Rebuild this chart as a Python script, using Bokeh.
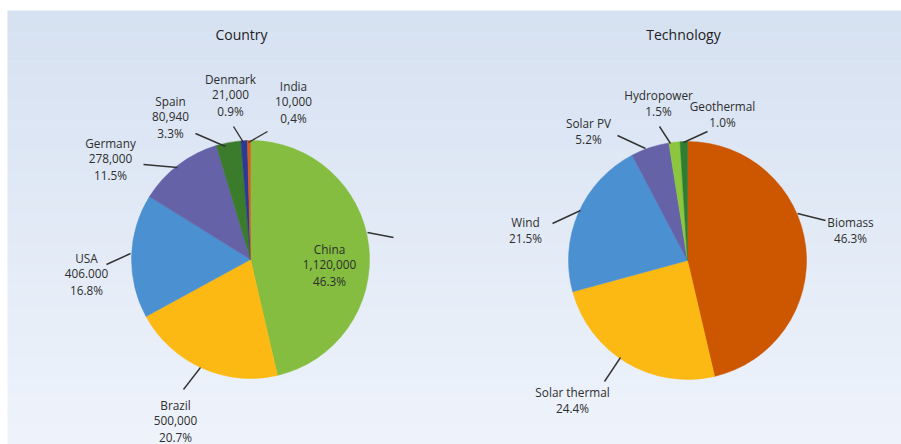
import math
from bokeh.plotting import figure
from bokeh.models import Range1d, ColumnDataSource
from bokeh.core.properties import value
from bokeh.embed import file_html
from bokeh.resources import INLINE

# ---------------- data ----------------
country_names = ["China", "Brazil", "USA", "Germany", "Spain", "Denmark", "India"]
country_values = [1120000, 500000, 406000, 278000, 80940, 21000, 10000]
country_value_labels = ["1,120,000", "500,000", "406.000", "278,000", "80,940", "21,000", "10,000"]
country_pct_labels = ["46.3%", "20.7%", "16.8%", "11.5%", "3.3%", "0.9%", "0,4%"]
country_colors = ["#84bd3f", "#fdb913", "#4b91d1", "#6562a8", "#3b7b2c", "#2b3a95", "#d4601c"]

tech_names = ["Biomass", "Solar thermal", "Wind", "Solar PV", "Hydropower", "Geothermal"]
tech_values = [46.3, 24.4, 21.5, 5.2, 1.5, 1.0]
tech_pct_labels = ["46.3%", "24.4%", "21.5%", "5.2%", "1.5%", "1.0%"]
tech_colors = ["#cc5700", "#fdb913", "#4b91d1", "#6562a8", "#8cc63f", "#2e7d32"]

# ---------------- layout ----------------
W, H = 901, 444
R = 119
country_center = (250, 259)
tech_center = (687, 260)

# label anchor (screen coords, first line centre)
country_label_pos = [(329, 248), (175, 404), (86, 257), (110, 142), (170, 100), (230, 78), (293, 85)]
tech_label_pos = [(850, 221), (572, 391), (525, 221), (588, 122), (658, 94), (722, 105)]
# leader lines (screen coords)
country_leaders = [((367, 232), (393, 237)), ((200, 367), (183, 389)), ((130, 253), (106, 264)),
                   ((177, 167), (143, 164)), ((225, 146), (195, 133)), ((243, 142), (233, 126)),
                   ((248, 142), (267, 131))]
tech_leaders = [((797, 213), (825, 220)), ((620, 357), (604, 381)), ((580, 210), (552, 223)),
                ((645, 148), (617, 135)), ((670, 143), (659, 126)), ((683, 142), (707, 131))]

FONT = "Open Sans"
TXT = "#2e2e2e"
LINE_H = 16

p = figure(width=W, height=H, x_range=Range1d(0, W), y_range=Range1d(0, H),
           output_backend="svg", toolbar_location=None,
           x_axis_type=None, y_axis_type=None, min_border=0)
p.grid.visible = False
p.outline_line_color = None
p.background_fill_color = "white"
p.border_fill_color = "white"

def sy(y):
    return H - y

# gradient panel
top_c = (0xd6, 0xe1, 0xf1)
bot_c = (0xee, 0xf3, 0xfb)
n = 60
y0, y1 = 10, H
lefts, rights, tops, bottoms, cols = [], [], [], [], []
for i in range(n):
    a = y0 + (y1 - y0) * i / n
    b = y0 + (y1 - y0) * (i + 1) / n + 0.6
    t = i / (n - 1)
    c = tuple(int(round(top_c[k] + (bot_c[k] - top_c[k]) * t)) for k in range(3))
    lefts.append(7); rights.append(W); tops.append(sy(a)); bottoms.append(sy(b))
    cols.append("#%02x%02x%02x" % c)
p.quad(left=lefts, right=rights, top=tops, bottom=bottoms, fill_color=cols, line_color=None)


def draw_pie(center, vals, colors):
    total = float(sum(vals))
    cum = 0.0
    starts, ends = [], []
    for v in vals:
        starts.append(math.pi / 2 - 2 * math.pi * cum / total)
        cum += v
        ends.append(math.pi / 2 - 2 * math.pi * cum / total)
    src = ColumnDataSource(dict(start=starts, end=ends, color=colors))
    p.wedge(x=center[0], y=sy(center[1]), radius=R, start_angle="start", end_angle="end",
            direction="clock", fill_color="color", line_color="color", line_width=0.5, source=src)


draw_pie(country_center, country_values, country_colors)
draw_pie(tech_center, tech_values, tech_colors)

# leader lines
for (a, b) in country_leaders + tech_leaders:
    p.line([a[0], b[0]], [sy(a[1]), sy(b[1])], line_color="#333333", line_width=1.4)

# labels
tx, ty, tt = [], [], []
for name, vl, pl, pos in zip(country_names, country_value_labels, country_pct_labels, country_label_pos):
    for j, s in enumerate([name, vl, pl]):
        tx.append(pos[0]); ty.append(sy(pos[1] + j * LINE_H)); tt.append(s)
for name, pl, pos in zip(tech_names, tech_pct_labels, tech_label_pos):
    for j, s in enumerate([name, pl]):
        tx.append(pos[0]); ty.append(sy(pos[1] + j * LINE_H)); tt.append(s)
p.text(x=tx, y=ty, text=tt, text_font=value(FONT), text_font_size="11.8px",
       text_color=TXT, text_align="center", text_baseline="middle")

# titles
p.text(x=[241, 683], y=[sy(34), sy(34)], text=["Country", "Technology"], text_font=value(FONT),
       text_font_size="14px", text_color="#222222", text_align="center", text_baseline="middle")

open("out.html", "w").write(file_html(p, INLINE))
